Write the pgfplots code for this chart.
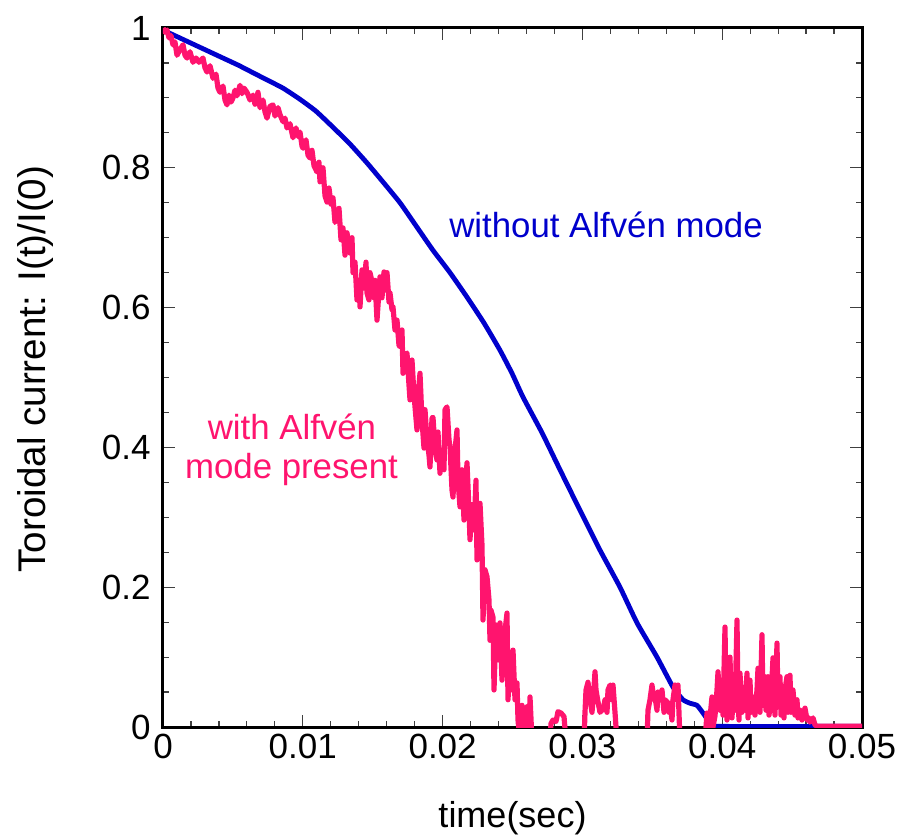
\documentclass[border=0pt]{standalone}
\usepackage{fontspec}
\setmainfont{Liberation Sans}
\usepackage{pgfplots}
\pgfplotsset{compat=1.18}
\definecolor{cblue}{RGB}{0,0,204}
\definecolor{cpink}{RGB}{255,20,110}
\begin{document}
\begin{tikzpicture}
\begin{axis}[
 scale only axis, width=349.5pt, height=349.5pt,
 xmin=0,xmax=0.05,ymin=0,ymax=1,
 xtick={0,0.01,0.02,0.03,0.04,0.05},
 xticklabels={0,0.01,0.02,0.03,0.04,0.05},
 ytick={0,0.2,0.4,0.6,0.8,1},
 yticklabels={0,0.2,0.4,0.6,0.8,1},
 scaled x ticks=false, scaled y ticks=false,
 minor x tick num=4, minor y tick num=3,
 tick align=inside,
 major tick length=6pt, minor tick length=3pt,
 every tick/.style={black!75, line width=0.6pt},
 axis line style={line width=1.5pt},
 /pgf/number format/assume math mode=true,
 ticklabel style={font=\fontsize{17.5}{20}\selectfont},
 yticklabel style={xshift=-2.7pt},
 label style={font=\fontsize{18}{21}\selectfont},
 xlabel={time(sec)},
 ylabel={Toroidal current: I(t)/I(0)},
 xlabel style={at={(axis description cs:0.5,-0.13)},anchor=center},
 ylabel style={at={(axis description cs:-0.183,0.512)},anchor=center,font=\fontsize{19.3}{22}\selectfont},
 clip=true,
]
\addplot[cblue, line width=2.4pt, line join=round, smooth, tension=0.3] coordinates {
(0,0.997) (0.001073,0.987) (0.002146,0.977) (0.003219,0.967) (0.004292,0.957)
(0.005365,0.947) (0.006438,0.936) (0.007511,0.925) (0.008584,0.914) (0.009800,0.898)
(0.010944,0.881) (0.012160,0.858) (0.013376,0.834) (0.014592,0.807) (0.015808,0.778)
(0.016953,0.750) (0.018169,0.715) (0.019313,0.682) (0.020529,0.650) (0.021745,0.615)
(0.022962,0.578) (0.024106,0.539) (0.024964,0.506) (0.025751,0.472) (0.027110,0.421)
(0.028398,0.368) (0.029828,0.310) (0.031259,0.253) (0.032690,0.200) (0.033906,0.149)
(0.035336,0.100) (0.036481,0.057) (0.037196,0.039) (0.037697,0.034) (0.038197,0.031)
(0.038627,0.020) (0.039127,0.006) (0.039556,0.001) (0.05,0.001)
};
\addplot[cpink, line width=2.6pt, line join=round] coordinates {
(0,1.000) (0.000143,0.994) (0.000286,0.997) (0.000429,0.986) (0.000572,0.989)
(0.000715,0.976) (0.000858,0.980) (0.001001,0.961) (0.001216,0.969) (0.001431,0.976)
(0.001574,0.961) (0.001717,0.957) (0.001931,0.966) (0.002146,0.951) (0.002361,0.957)
(0.002575,0.951) (0.002861,0.957) (0.003004,0.943) (0.003147,0.937) (0.003362,0.946)
(0.003577,0.928) (0.003791,0.934) (0.003934,0.914) (0.004077,0.908) (0.004292,0.917)
(0.004435,0.897) (0.004578,0.890) (0.004721,0.904) (0.004864,0.894) (0.005007,0.900)
(0.005150,0.911) (0.005293,0.903) (0.005508,0.918) (0.005651,0.906) (0.005794,0.914)
(0.006009,0.908) (0.006223,0.897) (0.006438,0.904) (0.006581,0.891) (0.006795,0.908)
(0.006938,0.886) (0.007153,0.897) (0.007296,0.880) (0.007439,0.871) (0.007654,0.888)
(0.007868,0.890) (0.008011,0.874) (0.008226,0.886) (0.008369,0.876) (0.008584,0.866)
(0.008727,0.871) (0.008870,0.857) (0.009084,0.863) (0.009299,0.843) (0.009514,0.857)
(0.009657,0.845) (0.009800,0.851) (0.009943,0.831) (0.010014,0.828) (0.010229,0.840)
(0.010372,0.818) (0.010515,0.814) (0.010658,0.825) (0.010801,0.803) (0.011016,0.794)
(0.011159,0.808) (0.011230,0.780) (0.011373,0.790) (0.011445,0.800) (0.011588,0.760)
(0.011731,0.751) (0.011874,0.771) (0.012017,0.748) (0.012160,0.757) (0.012303,0.722)
(0.012446,0.728) (0.012589,0.742) (0.012732,0.697) (0.012876,0.714) (0.013019,0.675)
(0.013162,0.707) (0.013305,0.685) (0.013376,0.678) (0.013519,0.700) (0.013591,0.650)
(0.013734,0.665) (0.013877,0.611) (0.014020,0.639) (0.014092,0.601) (0.014235,0.654)
(0.014378,0.628) (0.014521,0.665) (0.014592,0.621) (0.014735,0.611) (0.014807,0.650)
(0.014950,0.637) (0.015093,0.614) (0.015165,0.639) (0.015308,0.582) (0.015451,0.625)
(0.015522,0.644) (0.015665,0.614) (0.015808,0.651) (0.015951,0.625) (0.016023,0.650)
(0.016166,0.608) (0.016237,0.621) (0.016381,0.597) (0.016452,0.601) (0.016595,0.568)
(0.016738,0.582) (0.016881,0.546) (0.016953,0.544) (0.017096,0.568) (0.017167,0.506)
(0.017310,0.532) (0.017453,0.535) (0.017597,0.489) (0.017668,0.468) (0.017811,0.525)
(0.017954,0.475) (0.018169,0.425) (0.018312,0.489) (0.018383,0.506) (0.018526,0.439)
(0.018670,0.399) (0.018741,0.454) (0.018884,0.411) (0.019027,0.389) (0.019099,0.372)
(0.019242,0.442) (0.019313,0.443) (0.019456,0.399) (0.019599,0.382) (0.019671,0.422)
(0.019814,0.363) (0.019957,0.396) (0.020100,0.368) (0.020172,0.454) (0.020315,0.458)
(0.020458,0.411) (0.020529,0.401) (0.020673,0.339) (0.020744,0.329) (0.020887,0.396)
(0.021030,0.425) (0.021102,0.353) (0.021245,0.315) (0.021388,0.368) (0.021531,0.296)
(0.021674,0.353) (0.021745,0.378) (0.021888,0.310) (0.021960,0.268) (0.022103,0.318)
(0.022246,0.282) (0.022389,0.353) (0.022461,0.239) (0.022604,0.296) (0.022675,0.320)
(0.022818,0.260) (0.022890,0.153) (0.023033,0.225) (0.023176,0.215) (0.023319,0.182)
(0.023391,0.124) (0.023462,0.167) (0.023605,0.157) (0.023677,0.053) (0.023820,0.146)
(0.023963,0.096) (0.024106,0.149) (0.024249,0.067) (0.024392,0.124) (0.024607,0.163)
(0.024678,0.039) (0.024821,0.096) (0.024964,0.053) (0.025036,0.110) (0.025179,0.039)
(0.025322,0.063) (0.025393,0.010) (0.025537,-0.02) (0.025680,0.031) (0.025823,-0.02)
(0.026037,0.029) (0.026180,-0.02) (0.026252,0.043) (0.026395,-0.02) (0.027683,-0.02)
(0.027754,0.005) (0.027897,0.010) (0.028112,0.008) (0.028255,0.022) (0.028469,0.020)
(0.028684,0.015) (0.028827,-0.02) (0.030115,-0.02) (0.030186,0.021) (0.030258,0.053)
(0.030401,0.064) (0.030544,0.039) (0.030687,0.021) (0.030830,0.056) (0.030901,0.079)
(0.030973,0.053) (0.031116,0.036) (0.031259,0.021) (0.031402,0.024) (0.031545,0.031)
(0.031617,0.039) (0.031760,0.021) (0.031831,0.053) (0.031974,0.060) (0.032117,0.039)
(0.032189,0.060) (0.032332,0.021) (0.032475,-0.02) (0.034621,-0.02) (0.034692,0.024)
(0.034835,0.039) (0.034978,0.060) (0.035122,0.039) (0.035193,0.043) (0.035336,0.024)
(0.035408,0.050) (0.035551,0.039) (0.035694,0.053) (0.035837,0.021) (0.035908,0.039)
(0.036052,0.036) (0.036195,0.021) (0.036266,0.034) (0.036409,0.010) (0.036481,0.039)
(0.036624,0.060) (0.036767,0.039) (0.036838,0.060) (0.036981,-0.02) (0.038770,-0.02)
(0.038913,0.020) (0.039056,-0.02) (0.039127,0.013) (0.039270,0.043) (0.039342,0.000)
(0.039485,0.016) (0.039628,0.053) (0.039700,0.079) (0.039843,0.024) (0.039986,0.041)
(0.040057,0.017) (0.040200,0.143) (0.040272,0.039) (0.040343,0.010) (0.040415,0.057)
(0.040486,0.024) (0.040558,0.100) (0.040629,0.039) (0.040701,0.013) (0.040772,0.043)
(0.040915,0.024) (0.041059,0.153) (0.041130,0.039) (0.041202,0.010) (0.041273,0.077)
(0.041416,0.021) (0.041488,0.057) (0.041631,0.024) (0.041774,0.077) (0.041845,0.013)
(0.041989,0.067) (0.042060,0.021) (0.042203,0.043) (0.042346,0.017) (0.042489,0.053)
(0.042561,0.084) (0.042704,0.021) (0.042847,0.132) (0.042918,0.031) (0.043061,0.072)
(0.043133,0.024) (0.043276,0.072) (0.043348,0.017) (0.043491,0.039) (0.043634,0.099)
(0.043705,0.039) (0.043777,0.017) (0.043920,0.120) (0.043991,0.031) (0.044134,0.072)
(0.044206,0.017) (0.044349,0.039) (0.044420,0.013) (0.044492,0.053) (0.044635,0.072)
(0.044706,0.021) (0.044849,0.074) (0.044921,0.021) (0.045064,0.053) (0.045207,0.017)
(0.045350,0.039) (0.045422,0.013) (0.045565,0.024) (0.045708,0.010) (0.045923,0.027)
(0.046066,0.010) (0.046137,0.014) (0.046280,0.007) (0.046495,0.013) (0.046638,0.003)
(0.046781,0.001) (0.05,0.001)
};
\node[font=\fontsize{17.4}{20}\selectfont, text=cblue, anchor=base] at (axis cs:0.03169,0.700) {without Alfvén mode};
\node[font=\fontsize{17.4}{20}\selectfont, text=cpink, anchor=base] at (axis cs:0.009227,0.4106) {with Alfvén};
\node[font=\fontsize{17.4}{20}\selectfont, text=cpink, anchor=base] at (axis cs:0.009192,0.3562) {mode present};
\coordinate (ll) at (axis cs:0,0);
\coordinate (ur) at (axis cs:0.05,1);
\end{axis}
\path (ll) ++(-81.5pt,-54pt) coordinate (bl);
\path (ur) ++(18pt,14pt) coordinate (tr);
\pgfresetboundingbox
\useasboundingbox (bl) rectangle (tr);
\end{tikzpicture}
\end{document}
